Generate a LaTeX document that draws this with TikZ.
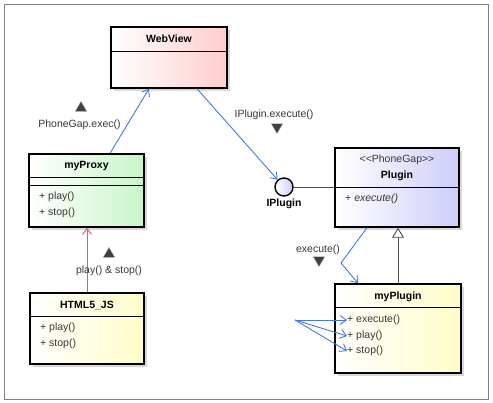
\documentclass[tikz,border=0pt]{standalone}
\usepackage{fontspec}
\setmainfont{Liberation Sans}
\usetikzlibrary{positioning,calc,shapes.geometric,arrows.meta,shadows}

\definecolor{linkblue}{RGB}{70,120,225}
\definecolor{linkpink}{RGB}{235,80,135}
\definecolor{txtgray}{RGB}{55,55,55}
\definecolor{webpink}{RGB}{255,205,205}
\definecolor{proxygreen}{RGB}{200,245,200}
\definecolor{jsyellow}{RGB}{255,252,200}
\definecolor{pluginblue}{RGB}{205,205,250}

\begin{document}
\begin{tikzpicture}[x=1pt, y=-1pt, font=\fontsize{10.5}{12}\selectfont,
    classbox/.style={draw, line width=1.4pt, inner sep=0pt, drop shadow={shadow xshift=3pt, shadow yshift=-3pt, fill=black!30, opacity=0.5}},
    title/.style={font=\fontsize{10.5}{12}\selectfont\bfseries, inner sep=0pt},
    member/.style={anchor=west, inner sep=0pt, text=txtgray},
    msg/.style={inner sep=0pt, text=txtgray},
    upmark/.style={regular polygon, regular polygon sides=3, fill=black!75, draw=black!40, minimum size=13pt, inner sep=0pt},
    downmark/.style={upmark, shape border rotate=180},
    call/.style={draw=linkblue, line width=0.9pt, -{Straight Barb[length=6pt, width=9pt]}},
    sep/.style={line width=0.9pt}]
    \useasboundingbox (0,0) rectangle (493,402);
    \draw[black!50] (4,4) rectangle (488,399);

    % WebView
    \node[classbox, left color=white, right color=webpink, minimum width=116pt, minimum height=61pt] (webview) at (169,57.5) {};
    \node[title] (webviewname) at (169,39) {WebView};
    \draw[sep] (webview.west |- 0,51) -- (webview.east |- 0,51);

    % myProxy
    \node[classbox, left color=white, right color=proxygreen, minimum width=115pt, minimum height=73pt] (myproxy) at (86.5,190.5) {};
    \node[title] (myproxyname) at (86.5,166) {myProxy};
    \draw[sep] (myproxy.west |- 0,177) -- (myproxy.east |- 0,177);
    \draw[sep] (myproxy.west |- 0,185) -- (myproxy.east |- 0,185);
    \node[member] (pxplay) at (39,197) {+ play()};
    \node[member] (pxstop) at (39,213) {+ stop()};

    % HTML5_JS
    \node[classbox, left color=white, right color=jsyellow, minimum width=114pt, minimum height=71pt] (html5js) at (87,328.5) {};
    \node[title] (html5jsname) at (87,305) {HTML5\_JS};
    \draw[sep] (html5js.west |- 0,316) -- (html5js.east |- 0,316);
    \node[member] (jsplay) at (40,328) {+ play()};
    \node[member] (jsstop) at (40,344) {+ stop()};

    % Plugin and its interface
    \node[classbox, left color=white, right color=pluginblue, minimum width=124pt, minimum height=79pt] (plugin) at (397,187.5) {};
    \node[msg] (pluginstereo) at (397,160) {<\kern0pt<PhoneGap>\kern0pt>};
    \node[title] (pluginname) at (397,176) {Plugin};
    \draw[sep] (plugin.west |- 0,187) -- (plugin.east |- 0,187);
    \node[member] (plexec) at (345,199) {+ \textit{execute()}};
    \node[circle, draw, line width=1.4pt, left color=white, right color=pluginblue, minimum size=18pt, inner sep=0pt] (iplugin) at (284,187) {};
    \node[title] (ipluginname) at (284,204) {IPlugin};

    % myPlugin
    \node[classbox, left color=white, right color=jsyellow, minimum width=126pt, minimum height=89pt] (myplugin) at (398,328.5) {};
    \node[title] (mypluginname) at (398,297) {myPlugin};
    \draw[sep] (myplugin.west |- 0,307) -- (myplugin.east |- 0,307);
    \node[member] (mpexec) at (347,320) {+ execute()};
    \node[member] (mpplay) at (347,336) {+ play()};
    \node[member] (mpstop) at (347,351) {+ stop()};

    % Connectors
    \draw[call] ([xshift=23.5pt]myproxy.north) -- ([xshift=-20pt]webview.south);
    \draw[call] ([xshift=28pt]webview.south) -- (iplugin);
    \draw[black!70, line width=0.9pt] (iplugin) -- (plugin.west |- iplugin);
    \draw[linkpink, line width=0.9pt, -{Straight Barb[length=6pt, width=9pt]}] (html5js.north) -- (html5js.north |- myproxy.south);
    \coordinate (bend) at (341,263);
    \draw[call] ([xshift=-30pt]plugin.south) -- (bend) -- ([xshift=-40pt]myplugin.north);
    \draw[black!70, line width=0.9pt, -{Triangle[open, length=10pt, width=12pt, fill=white]}] (myplugin.north) -- (myplugin.north |- plugin.south);
    \coordinate (caller) at (295,320);
    \foreach \m in {mpexec, mpplay, mpstop}
        \draw[call] (caller) -- (\m.west);

    % Messages
    \node[upmark] (proxymark) at (81,108) {};
    \node[msg] (proxymsg) at (79.5,125) {PhoneGap.exec()};
    \node[upmark] (jsmark) at (109,254) {};
    \node[msg] (jsmsg) at (109,271) {play() \& stop()};
    \node[downmark] (webmark) at (277,127) {};
    \node[msg] (webmsg) at (274,115) {IPlugin.execute()};
    \node[downmark] (execmark) at (319,260) {};
    \node[msg] (execmsg) at (318,250) {execute()};
\end{tikzpicture}
\end{document}
